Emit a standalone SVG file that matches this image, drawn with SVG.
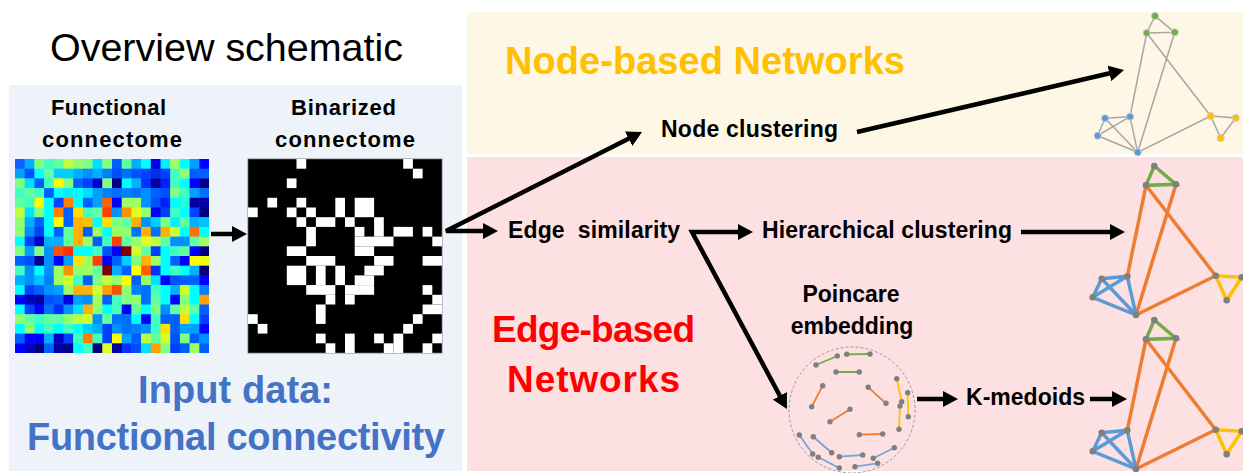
<svg xmlns="http://www.w3.org/2000/svg" xmlns:xlink="http://www.w3.org/1999/xlink" width="1243" height="473" viewBox="0 0 1243 473">
<style>
  .t { font-family: "Liberation Sans", Arial, sans-serif; }
  .b { font-family: "Liberation Sans", Arial, sans-serif; font-weight: bold; fill: #000; }
  .s { font-size: 23px; }
  .h { font-size: 22px; }
  .big { font-size: 38px; }
  .red { font-size: 37px; fill: #ff0000; }
  .blu { fill: #4472c4; }
  .arr { fill: none; stroke: #000; stroke-width: 4.5; marker-end: url(#ah); }
  .arr2 { fill: none; stroke: #000; stroke-width: 4.5; marker-start: url(#as); marker-end: url(#ah); stroke-linejoin: miter; }
  .gE { stroke: #a6a6a6; stroke-width: 1.5; fill: none; }
  .nd { stroke: #cfcfcf; stroke-width: 1; }
  .og { stroke: #ed7d31; stroke-width: 3.5; fill: none; }
  .bl { stroke: #5b9bd5; stroke-width: 3.5; fill: none; }
  .gr { stroke: #70ad47; stroke-width: 3.5; fill: none; }
  .ye { stroke: #ffc000; stroke-width: 3.5; fill: none; }
  .gn { fill: #7f7f7f; }
  .pe { stroke-width: 1.8; fill: none; }
</style>
<defs>
  <marker id="ah" markerUnits="userSpaceOnUse" viewBox="0 0 16 16" markerWidth="16" markerHeight="16" refX="7" refY="8" orient="auto">
    <path d="M0,0 L15,8 L0,16 z" fill="#000"/>
  </marker>
  <marker id="as" markerUnits="userSpaceOnUse" viewBox="0 0 16 16" markerWidth="16" markerHeight="16" refX="7" refY="8" orient="auto-start-reverse">
    <path d="M0,0 L15,8 L0,16 z" fill="#000"/>
  </marker>
  <!-- edge-clustered network, drawn once and reused -->
  <g id="edge-net">
    <path class="og" d="M1146,185.3 L1127.3,276.3 M1176,184.3 L1136,315 M1146,185.3 L1215.7,275.7 M1136,315 L1215.7,275.7"/>
    <path class="bl" d="M1101.7,278.7 L1127.3,276.3 M1101.7,278.7 L1092.7,297.3 M1092.7,297.3 L1127.3,276.3 M1101.7,278.7 L1136,315 M1127.3,276.3 L1136,315 M1092.7,297.3 L1136,315"/>
    <path class="gr" d="M1154.3,166 L1146,185.3 L1176,184.3 Z"/>
    <path class="ye" d="M1215.7,275.7 L1241.7,277.3 L1226.7,300.3 Z"/>
    <g class="gn">
      <circle cx="1154.3" cy="166" r="3.3"/><circle cx="1146" cy="185.3" r="3.3"/><circle cx="1176" cy="184.3" r="3.3"/>
      <circle cx="1127.3" cy="276.3" r="3.3"/><circle cx="1101.7" cy="278.7" r="3.3"/><circle cx="1092.7" cy="297.3" r="3.3"/><circle cx="1136" cy="315" r="3.3"/>
      <circle cx="1215.7" cy="275.7" r="3.3"/><circle cx="1241.7" cy="277.3" r="3.3"/><circle cx="1226.7" cy="300.3" r="3.3"/>
    </g>
  </g>
</defs>

<rect width="1243" height="473" fill="#fff"/>

<!-- background panels -->
<g id="input-panel">
  <rect x="9" y="85" width="453" height="386" fill="#eef3fa"/>
  <text class="b big blu" x="138" y="403" textLength="195">Input data:</text>
  <text class="b big blu" x="27" y="450" textLength="418">Functional connectivity</text>
</g>
<g id="node-based-panel">
  <rect x="467" y="12" width="776" height="142" fill="#fef7e6"/>
  <text class="b big" x="505" y="74" style="fill:#ffc000" textLength="400">Node-based Networks</text>
</g>
<g id="edge-based-panel">
  <rect x="467" y="157" width="776" height="314" fill="#fde0e1"/>
  <text class="b red" x="492" y="342" textLength="203">Edge-based</text>
  <text class="b red" x="507" y="392" textLength="173">Networks</text>
</g>

<g id="overview-title">
  <text class="t" x="50" y="61" font-size="39.5" fill="#000" textLength="353">Overview schematic</text>
</g>

<!-- functional connectome: 20x20 correlation matrix, jet colour map -->
<g id="functional-connectome">
  <text class="b h" x="51" y="115" textLength="115">Functional</text>
  <text class="b h" x="42" y="147" textLength="140">connectome</text>
  <g transform="translate(15,159) scale(9.7)">
    <g transform="translate(0,0)"><rect x="0" width="1.05" height="1.05" fill="#1060ff"/><rect x="1" width="1.05" height="1.05" fill="#00b0ff"/><rect x="2" width="1.05" height="1.05" fill="#80ff80"/><rect x="3" width="1.05" height="1.05" fill="#40ffc0"/><rect x="4" width="1.05" height="1.05" fill="#60ffa0"/><rect x="5" width="1.05" height="1.05" fill="#c0ff40"/><rect x="6" width="1.05" height="1.05" fill="#90ff70"/><rect x="7" width="1.05" height="1.05" fill="#80ff80"/><rect x="8" width="1.05" height="1.05" fill="#00e0ff"/><rect x="9" width="1.05" height="1.05" fill="#80ff80"/><rect x="10" width="1.05" height="1.05" fill="#0060ff"/><rect x="11" width="1.05" height="1.05" fill="#60ffa0"/><rect x="12" width="1.05" height="1.05" fill="#00b0ff"/><rect x="13" width="1.05" height="1.05" fill="#00ffff"/><rect x="14" width="1.05" height="1.05" fill="#0000e0"/><rect x="15" width="1.05" height="1.05" fill="#00f0ff"/><rect x="16" width="1.05" height="1.05" fill="#a0ff60"/><rect x="17" width="1.05" height="1.05" fill="#00ffff"/><rect x="18" width="1.05" height="1.05" fill="#00a0ff"/><rect x="19" width="1" height="1.05" fill="#0000ff"/></g>
    <g transform="translate(0,1)"><rect x="0" width="1.05" height="1.05" fill="#00a0ff"/><rect x="1" width="1.05" height="1.05" fill="#0050ff"/><rect x="2" width="1.05" height="1.05" fill="#00ffff"/><rect x="3" width="1.05" height="1.05" fill="#60ffa0"/><rect x="4" width="1.05" height="1.05" fill="#00d0ff"/><rect x="5" width="1.05" height="1.05" fill="#00d0ff"/><rect x="6" width="1.05" height="1.05" fill="#00b0ff"/><rect x="7" width="1.05" height="1.05" fill="#0090ff"/><rect x="8" width="1.05" height="1.05" fill="#00b0ff"/><rect x="9" width="1.05" height="1.05" fill="#0080ff"/><rect x="10" width="1.05" height="1.05" fill="#0050ff"/><rect x="11" width="1.05" height="1.05" fill="#0070ff"/><rect x="12" width="1.05" height="1.05" fill="#0050ff"/><rect x="13" width="1.05" height="1.05" fill="#0040ff"/><rect x="14" width="1.05" height="1.05" fill="#0030e0"/><rect x="15" width="1.05" height="1.05" fill="#0040ff"/><rect x="16" width="1.05" height="1.05" fill="#40ffc0"/><rect x="17" width="1.05" height="1.05" fill="#90ff70"/><rect x="18" width="1.05" height="1.05" fill="#0060ff"/><rect x="19" width="1" height="1.05" fill="#0060ff"/></g>
    <g transform="translate(0,2)"><rect x="0" width="1.05" height="1.05" fill="#80ff80"/><rect x="1" width="1.05" height="1.05" fill="#00e0ff"/><rect x="2" width="1.05" height="1.05" fill="#0060ff"/><rect x="3" width="1.05" height="1.05" fill="#40ffc0"/><rect x="4" width="1.05" height="1.05" fill="#ffff00"/><rect x="5" width="1.05" height="1.05" fill="#80ff80"/><rect x="6" width="1.05" height="1.05" fill="#0060ff"/><rect x="7" width="1.05" height="1.05" fill="#0040ff"/><rect x="8" width="1.05" height="1.05" fill="#0000c0"/><rect x="9" width="1.05" height="1.05" fill="#80ff80"/><rect x="10" width="1.05" height="1.05" fill="#000080"/><rect x="11" width="1.05" height="1.05" fill="#00ffff"/><rect x="12" width="1.05" height="1.05" fill="#00b0ff"/><rect x="13" width="1.05" height="1.05" fill="#0030ff"/><rect x="14" width="1.05" height="1.05" fill="#0000a0"/><rect x="15" width="1.05" height="1.05" fill="#0020ff"/><rect x="16" width="1.05" height="1.05" fill="#40ffc0"/><rect x="17" width="1.05" height="1.05" fill="#00ffff"/><rect x="18" width="1.05" height="1.05" fill="#0000ff"/><rect x="19" width="1" height="1.05" fill="#000080"/></g>
    <g transform="translate(0,3)"><rect x="0" width="1.05" height="1.05" fill="#40ffc0"/><rect x="1" width="1.05" height="1.05" fill="#60ffa0"/><rect x="2" width="1.05" height="1.05" fill="#40ffc0"/><rect x="3" width="1.05" height="1.05" fill="#0060ff"/><rect x="4" width="1.05" height="1.05" fill="#00ffff"/><rect x="5" width="1.05" height="1.05" fill="#00f0ff"/><rect x="6" width="1.05" height="1.05" fill="#00ffff"/><rect x="7" width="1.05" height="1.05" fill="#00e0ff"/><rect x="8" width="1.05" height="1.05" fill="#00a0ff"/><rect x="9" width="1.05" height="1.05" fill="#0080ff"/><rect x="10" width="1.05" height="1.05" fill="#0070ff"/><rect x="11" width="1.05" height="1.05" fill="#0080ff"/><rect x="12" width="1.05" height="1.05" fill="#0070ff"/><rect x="13" width="1.05" height="1.05" fill="#0090ff"/><rect x="14" width="1.05" height="1.05" fill="#0060ff"/><rect x="15" width="1.05" height="1.05" fill="#0050ff"/><rect x="16" width="1.05" height="1.05" fill="#80ff80"/><rect x="17" width="1.05" height="1.05" fill="#40ffc0"/><rect x="18" width="1.05" height="1.05" fill="#00a0ff"/><rect x="19" width="1" height="1.05" fill="#0070ff"/></g>
    <g transform="translate(0,4)"><rect x="0" width="1.05" height="1.05" fill="#60ffa0"/><rect x="1" width="1.05" height="1.05" fill="#40ffc0"/><rect x="2" width="1.05" height="1.05" fill="#ffff00"/><rect x="3" width="1.05" height="1.05" fill="#00ffff"/><rect x="4" width="1.05" height="1.05" fill="#0040ff"/><rect x="5" width="1.05" height="1.05" fill="#ff8000"/><rect x="6" width="1.05" height="1.05" fill="#00ffff"/><rect x="7" width="1.05" height="1.05" fill="#0060ff"/><rect x="8" width="1.05" height="1.05" fill="#00a0ff"/><rect x="9" width="1.05" height="1.05" fill="#ff6000"/><rect x="10" width="1.05" height="1.05" fill="#0000ff"/><rect x="11" width="1.05" height="1.05" fill="#a0ff60"/><rect x="12" width="1.05" height="1.05" fill="#a0ff60"/><rect x="13" width="1.05" height="1.05" fill="#0090ff"/><rect x="14" width="1.05" height="1.05" fill="#0050ff"/><rect x="15" width="1.05" height="1.05" fill="#0020ff"/><rect x="16" width="1.05" height="1.05" fill="#00ffff"/><rect x="17" width="1.05" height="1.05" fill="#20ffe0"/><rect x="18" width="1.05" height="1.05" fill="#0000a0"/><rect x="19" width="1" height="1.05" fill="#0000a0"/></g>
    <g transform="translate(0,5)"><rect x="0" width="1.05" height="1.05" fill="#c0ff40"/><rect x="1" width="1.05" height="1.05" fill="#00e0ff"/><rect x="2" width="1.05" height="1.05" fill="#80ff80"/><rect x="3" width="1.05" height="1.05" fill="#00ffff"/><rect x="4" width="1.05" height="1.05" fill="#ff8000"/><rect x="5" width="1.05" height="1.05" fill="#0060ff"/><rect x="6" width="1.05" height="1.05" fill="#ffe000"/><rect x="7" width="1.05" height="1.05" fill="#40ffc0"/><rect x="8" width="1.05" height="1.05" fill="#60ffa0"/><rect x="9" width="1.05" height="1.05" fill="#ff4000"/><rect x="10" width="1.05" height="1.05" fill="#0090ff"/><rect x="11" width="1.05" height="1.05" fill="#ff9000"/><rect x="12" width="1.05" height="1.05" fill="#e0ff20"/><rect x="13" width="1.05" height="1.05" fill="#90ff70"/><rect x="14" width="1.05" height="1.05" fill="#0000ff"/><rect x="15" width="1.05" height="1.05" fill="#0040ff"/><rect x="16" width="1.05" height="1.05" fill="#40ffc0"/><rect x="17" width="1.05" height="1.05" fill="#00ffff"/><rect x="18" width="1.05" height="1.05" fill="#0040ff"/><rect x="19" width="1" height="1.05" fill="#000080"/></g>
    <g transform="translate(0,6)"><rect x="0" width="1.05" height="1.05" fill="#90ff70"/><rect x="1" width="1.05" height="1.05" fill="#00b0ff"/><rect x="2" width="1.05" height="1.05" fill="#0060ff"/><rect x="3" width="1.05" height="1.05" fill="#00ffff"/><rect x="4" width="1.05" height="1.05" fill="#ffff00"/><rect x="5" width="1.05" height="1.05" fill="#0060ff"/><rect x="6" width="1.05" height="1.05" fill="#ffb000"/><rect x="7" width="1.05" height="1.05" fill="#ffc000"/><rect x="8" width="1.05" height="1.05" fill="#00ffff"/><rect x="9" width="1.05" height="1.05" fill="#ffe000"/><rect x="10" width="1.05" height="1.05" fill="#80ff80"/><rect x="11" width="1.05" height="1.05" fill="#60ffa0"/><rect x="12" width="1.05" height="1.05" fill="#ffb000"/><rect x="13" width="1.05" height="1.05" fill="#0090ff"/><rect x="14" width="1.05" height="1.05" fill="#00d0ff"/><rect x="15" width="1.05" height="1.05" fill="#80ff80"/><rect x="16" width="1.05" height="1.05" fill="#00f0ff"/><rect x="17" width="1.05" height="1.05" fill="#60ffa0"/><rect x="18" width="1.05" height="1.05" fill="#00b0ff"/><rect x="19" width="1" height="1.05" fill="#00c0ff"/></g>
    <g transform="translate(0,7)"><rect x="0" width="1.05" height="1.05" fill="#90ff70"/><rect x="1" width="1.05" height="1.05" fill="#0090ff"/><rect x="2" width="1.05" height="1.05" fill="#0040ff"/><rect x="3" width="1.05" height="1.05" fill="#00ffff"/><rect x="4" width="1.05" height="1.05" fill="#0060ff"/><rect x="5" width="1.05" height="1.05" fill="#60ffa0"/><rect x="6" width="1.05" height="1.05" fill="#ffb000"/><rect x="7" width="1.05" height="1.05" fill="#0060ff"/><rect x="8" width="1.05" height="1.05" fill="#a0ff60"/><rect x="9" width="1.05" height="1.05" fill="#00ffff"/><rect x="10" width="1.05" height="1.05" fill="#a0ff60"/><rect x="11" width="1.05" height="1.05" fill="#90ff70"/><rect x="12" width="1.05" height="1.05" fill="#0070ff"/><rect x="13" width="1.05" height="1.05" fill="#ffb000"/><rect x="14" width="1.05" height="1.05" fill="#0070ff"/><rect x="15" width="1.05" height="1.05" fill="#ffb000"/><rect x="16" width="1.05" height="1.05" fill="#d0ff30"/><rect x="17" width="1.05" height="1.05" fill="#00ffff"/><rect x="18" width="1.05" height="1.05" fill="#ff7000"/><rect x="19" width="1" height="1.05" fill="#00ffff"/></g>
    <g transform="translate(0,8)"><rect x="0" width="1.05" height="1.05" fill="#00ffff"/><rect x="1" width="1.05" height="1.05" fill="#0040ff"/><rect x="2" width="1.05" height="1.05" fill="#0000c0"/><rect x="3" width="1.05" height="1.05" fill="#00b0ff"/><rect x="4" width="1.05" height="1.05" fill="#00b0ff"/><rect x="5" width="1.05" height="1.05" fill="#60ffa0"/><rect x="6" width="1.05" height="1.05" fill="#ffb000"/><rect x="7" width="1.05" height="1.05" fill="#a0ff60"/><rect x="8" width="1.05" height="1.05" fill="#0060ff"/><rect x="9" width="1.05" height="1.05" fill="#40ffc0"/><rect x="10" width="1.05" height="1.05" fill="#ff4000"/><rect x="11" width="1.05" height="1.05" fill="#60ffa0"/><rect x="12" width="1.05" height="1.05" fill="#90ff70"/><rect x="13" width="1.05" height="1.05" fill="#e0ff20"/><rect x="14" width="1.05" height="1.05" fill="#c0ff40"/><rect x="15" width="1.05" height="1.05" fill="#60ffa0"/><rect x="16" width="1.05" height="1.05" fill="#0090ff"/><rect x="17" width="1.05" height="1.05" fill="#0090ff"/><rect x="18" width="1.05" height="1.05" fill="#60ffa0"/><rect x="19" width="1" height="1.05" fill="#a0ff60"/></g>
    <g transform="translate(0,9)"><rect x="0" width="1.05" height="1.05" fill="#80ff80"/><rect x="1" width="1.05" height="1.05" fill="#00a0ff"/><rect x="2" width="1.05" height="1.05" fill="#80ff80"/><rect x="3" width="1.05" height="1.05" fill="#0090ff"/><rect x="4" width="1.05" height="1.05" fill="#ff5000"/><rect x="5" width="1.05" height="1.05" fill="#ff3000"/><rect x="6" width="1.05" height="1.05" fill="#00ffff"/><rect x="7" width="1.05" height="1.05" fill="#00ffff"/><rect x="8" width="1.05" height="1.05" fill="#40ffc0"/><rect x="9" width="1.05" height="1.05" fill="#0050ff"/><rect x="10" width="1.05" height="1.05" fill="#0000ff"/><rect x="11" width="1.05" height="1.05" fill="#800000"/><rect x="12" width="1.05" height="1.05" fill="#d0ff30"/><rect x="13" width="1.05" height="1.05" fill="#60ffa0"/><rect x="14" width="1.05" height="1.05" fill="#0040ff"/><rect x="15" width="1.05" height="1.05" fill="#00ffff"/><rect x="16" width="1.05" height="1.05" fill="#40ffc0"/><rect x="17" width="1.05" height="1.05" fill="#60ffa0"/><rect x="18" width="1.05" height="1.05" fill="#0000ff"/><rect x="19" width="1" height="1.05" fill="#000080"/></g>
    <g transform="translate(0,10)"><rect x="0" width="1.05" height="1.05" fill="#0060ff"/><rect x="1" width="1.05" height="1.05" fill="#0050ff"/><rect x="2" width="1.05" height="1.05" fill="#000090"/><rect x="3" width="1.05" height="1.05" fill="#0090ff"/><rect x="4" width="1.05" height="1.05" fill="#0000ff"/><rect x="5" width="1.05" height="1.05" fill="#00a0ff"/><rect x="6" width="1.05" height="1.05" fill="#ffe000"/><rect x="7" width="1.05" height="1.05" fill="#a0ff60"/><rect x="8" width="1.05" height="1.05" fill="#ff4000"/><rect x="9" width="1.05" height="1.05" fill="#0000ff"/><rect x="10" width="1.05" height="1.05" fill="#0060ff"/><rect x="11" width="1.05" height="1.05" fill="#00d0ff"/><rect x="12" width="1.05" height="1.05" fill="#80ff80"/><rect x="13" width="1.05" height="1.05" fill="#ffb000"/><rect x="14" width="1.05" height="1.05" fill="#a0ff60"/><rect x="15" width="1.05" height="1.05" fill="#00ffff"/><rect x="16" width="1.05" height="1.05" fill="#0060ff"/><rect x="17" width="1.05" height="1.05" fill="#0000ff"/><rect x="18" width="1.05" height="1.05" fill="#ffff00"/><rect x="19" width="1" height="1.05" fill="#f0ff10"/></g>
    <g transform="translate(0,11)"><rect x="0" width="1.05" height="1.05" fill="#40ffc0"/><rect x="1" width="1.05" height="1.05" fill="#0090ff"/><rect x="2" width="1.05" height="1.05" fill="#00ffff"/><rect x="3" width="1.05" height="1.05" fill="#0090ff"/><rect x="4" width="1.05" height="1.05" fill="#a0ff60"/><rect x="5" width="1.05" height="1.05" fill="#ff9000"/><rect x="6" width="1.05" height="1.05" fill="#90ff70"/><rect x="7" width="1.05" height="1.05" fill="#a0ff60"/><rect x="8" width="1.05" height="1.05" fill="#60ffa0"/><rect x="9" width="1.05" height="1.05" fill="#800000"/><rect x="10" width="1.05" height="1.05" fill="#00b0ff"/><rect x="11" width="1.05" height="1.05" fill="#0060ff"/><rect x="12" width="1.05" height="1.05" fill="#ffff00"/><rect x="13" width="1.05" height="1.05" fill="#ff6000"/><rect x="14" width="1.05" height="1.05" fill="#0030ff"/><rect x="15" width="1.05" height="1.05" fill="#00ffff"/><rect x="16" width="1.05" height="1.05" fill="#40ffc0"/><rect x="17" width="1.05" height="1.05" fill="#00ffff"/><rect x="18" width="1.05" height="1.05" fill="#00b0ff"/><rect x="19" width="1" height="1.05" fill="#000070"/></g>
    <g transform="translate(0,12)"><rect x="0" width="1.05" height="1.05" fill="#00b0ff"/><rect x="1" width="1.05" height="1.05" fill="#0090ff"/><rect x="2" width="1.05" height="1.05" fill="#00c0ff"/><rect x="3" width="1.05" height="1.05" fill="#0080ff"/><rect x="4" width="1.05" height="1.05" fill="#a0ff60"/><rect x="5" width="1.05" height="1.05" fill="#d0ff30"/><rect x="6" width="1.05" height="1.05" fill="#40ffc0"/><rect x="7" width="1.05" height="1.05" fill="#0060ff"/><rect x="8" width="1.05" height="1.05" fill="#80ff80"/><rect x="9" width="1.05" height="1.05" fill="#c0ff40"/><rect x="10" width="1.05" height="1.05" fill="#90ff70"/><rect x="11" width="1.05" height="1.05" fill="#ffff00"/><rect x="12" width="1.05" height="1.05" fill="#0060ff"/><rect x="13" width="1.05" height="1.05" fill="#90ff70"/><rect x="14" width="1.05" height="1.05" fill="#00e0ff"/><rect x="15" width="1.05" height="1.05" fill="#0000ff"/><rect x="16" width="1.05" height="1.05" fill="#0050ff"/><rect x="17" width="1.05" height="1.05" fill="#0060ff"/><rect x="18" width="1.05" height="1.05" fill="#0060ff"/><rect x="19" width="1" height="1.05" fill="#0000ff"/></g>
    <g transform="translate(0,13)"><rect x="0" width="1.05" height="1.05" fill="#00ffff"/><rect x="1" width="1.05" height="1.05" fill="#0040ff"/><rect x="2" width="1.05" height="1.05" fill="#0060ff"/><rect x="3" width="1.05" height="1.05" fill="#0090ff"/><rect x="4" width="1.05" height="1.05" fill="#00a0ff"/><rect x="5" width="1.05" height="1.05" fill="#a0ff60"/><rect x="6" width="1.05" height="1.05" fill="#ffb000"/><rect x="7" width="1.05" height="1.05" fill="#ffb000"/><rect x="8" width="1.05" height="1.05" fill="#d0ff30"/><rect x="9" width="1.05" height="1.05" fill="#ffa000"/><rect x="10" width="1.05" height="1.05" fill="#ff5000"/><rect x="11" width="1.05" height="1.05" fill="#90ff70"/><rect x="12" width="1.05" height="1.05" fill="#0080ff"/><rect x="13" width="1.05" height="1.05" fill="#0070ff"/><rect x="14" width="1.05" height="1.05" fill="#40ffc0"/><rect x="15" width="1.05" height="1.05" fill="#00ffff"/><rect x="16" width="1.05" height="1.05" fill="#00b0ff"/><rect x="17" width="1.05" height="1.05" fill="#d0ff30"/><rect x="18" width="1.05" height="1.05" fill="#00ffff"/><rect x="19" width="1" height="1.05" fill="#0080ff"/></g>
    <g transform="translate(0,14)"><rect x="0" width="1.05" height="1.05" fill="#0000ff"/><rect x="1" width="1.05" height="1.05" fill="#0000c0"/><rect x="2" width="1.05" height="1.05" fill="#0000a0"/><rect x="3" width="1.05" height="1.05" fill="#0050ff"/><rect x="4" width="1.05" height="1.05" fill="#0060ff"/><rect x="5" width="1.05" height="1.05" fill="#0000e0"/><rect x="6" width="1.05" height="1.05" fill="#00a0ff"/><rect x="7" width="1.05" height="1.05" fill="#0090ff"/><rect x="8" width="1.05" height="1.05" fill="#a0ff60"/><rect x="9" width="1.05" height="1.05" fill="#0060ff"/><rect x="10" width="1.05" height="1.05" fill="#40ffc0"/><rect x="11" width="1.05" height="1.05" fill="#80ff80"/><rect x="12" width="1.05" height="1.05" fill="#90ff70"/><rect x="13" width="1.05" height="1.05" fill="#0070ff"/><rect x="14" width="1.05" height="1.05" fill="#60ffa0"/><rect x="15" width="1.05" height="1.05" fill="#00ffff"/><rect x="16" width="1.05" height="1.05" fill="#0000ff"/><rect x="17" width="1.05" height="1.05" fill="#80ff80"/><rect x="18" width="1.05" height="1.05" fill="#00ffff"/><rect x="19" width="1" height="1.05" fill="#ffa000"/></g>
    <g transform="translate(0,15)"><rect x="0" width="1.05" height="1.05" fill="#00ffff"/><rect x="1" width="1.05" height="1.05" fill="#0040ff"/><rect x="2" width="1.05" height="1.05" fill="#0000ff"/><rect x="3" width="1.05" height="1.05" fill="#0070ff"/><rect x="4" width="1.05" height="1.05" fill="#0030ff"/><rect x="5" width="1.05" height="1.05" fill="#0090ff"/><rect x="6" width="1.05" height="1.05" fill="#00e0ff"/><rect x="7" width="1.05" height="1.05" fill="#ffb000"/><rect x="8" width="1.05" height="1.05" fill="#90ff70"/><rect x="9" width="1.05" height="1.05" fill="#00ffff"/><rect x="10" width="1.05" height="1.05" fill="#40ffc0"/><rect x="11" width="1.05" height="1.05" fill="#0000ff"/><rect x="12" width="1.05" height="1.05" fill="#60ffa0"/><rect x="13" width="1.05" height="1.05" fill="#00ffff"/><rect x="14" width="1.05" height="1.05" fill="#80ff80"/><rect x="15" width="1.05" height="1.05" fill="#0090ff"/><rect x="16" width="1.05" height="1.05" fill="#60ffa0"/><rect x="17" width="1.05" height="1.05" fill="#c0ff40"/><rect x="18" width="1.05" height="1.05" fill="#60ffa0"/><rect x="19" width="1" height="1.05" fill="#0060ff"/></g>
    <g transform="translate(0,16)"><rect x="0" width="1.05" height="1.05" fill="#90ff70"/><rect x="1" width="1.05" height="1.05" fill="#60ffa0"/><rect x="2" width="1.05" height="1.05" fill="#40ffc0"/><rect x="3" width="1.05" height="1.05" fill="#60ffa0"/><rect x="4" width="1.05" height="1.05" fill="#60ffa0"/><rect x="5" width="1.05" height="1.05" fill="#90ff70"/><rect x="6" width="1.05" height="1.05" fill="#c0ff40"/><rect x="7" width="1.05" height="1.05" fill="#d0ff30"/><rect x="8" width="1.05" height="1.05" fill="#0090ff"/><rect x="9" width="1.05" height="1.05" fill="#60ffa0"/><rect x="10" width="1.05" height="1.05" fill="#0070ff"/><rect x="11" width="1.05" height="1.05" fill="#0070ff"/><rect x="12" width="1.05" height="1.05" fill="#00ffff"/><rect x="13" width="1.05" height="1.05" fill="#0000ff"/><rect x="14" width="1.05" height="1.05" fill="#40ffc0"/><rect x="15" width="1.05" height="1.05" fill="#0060ff"/><rect x="16" width="1.05" height="1.05" fill="#0060ff"/><rect x="17" width="1.05" height="1.05" fill="#ffe000"/><rect x="18" width="1.05" height="1.05" fill="#00ffff"/><rect x="19" width="1" height="1.05" fill="#0040ff"/></g>
    <g transform="translate(0,17)"><rect x="0" width="1.05" height="1.05" fill="#00ffff"/><rect x="1" width="1.05" height="1.05" fill="#90ff70"/><rect x="2" width="1.05" height="1.05" fill="#00ffff"/><rect x="3" width="1.05" height="1.05" fill="#40ffc0"/><rect x="4" width="1.05" height="1.05" fill="#00ffff"/><rect x="5" width="1.05" height="1.05" fill="#40ffc0"/><rect x="6" width="1.05" height="1.05" fill="#00ffff"/><rect x="7" width="1.05" height="1.05" fill="#00d0ff"/><rect x="8" width="1.05" height="1.05" fill="#00b0ff"/><rect x="9" width="1.05" height="1.05" fill="#0040ff"/><rect x="10" width="1.05" height="1.05" fill="#0090ff"/><rect x="11" width="1.05" height="1.05" fill="#0070ff"/><rect x="12" width="1.05" height="1.05" fill="#0080ff"/><rect x="13" width="1.05" height="1.05" fill="#0090ff"/><rect x="14" width="1.05" height="1.05" fill="#40ffc0"/><rect x="15" width="1.05" height="1.05" fill="#ffe000"/><rect x="16" width="1.05" height="1.05" fill="#0060ff"/><rect x="17" width="1.05" height="1.05" fill="#00a0ff"/><rect x="18" width="1.05" height="1.05" fill="#00a0ff"/><rect x="19" width="1" height="1.05" fill="#0000ff"/></g>
    <g transform="translate(0,18)"><rect x="0" width="1.05" height="1.05" fill="#0060ff"/><rect x="1" width="1.05" height="1.05" fill="#0000ff"/><rect x="2" width="1.05" height="1.05" fill="#0000ff"/><rect x="3" width="1.05" height="1.05" fill="#00b0ff"/><rect x="4" width="1.05" height="1.05" fill="#0000c0"/><rect x="5" width="1.05" height="1.05" fill="#0040ff"/><rect x="6" width="1.05" height="1.05" fill="#40ffc0"/><rect x="7" width="1.05" height="1.05" fill="#ff8000"/><rect x="8" width="1.05" height="1.05" fill="#40ffc0"/><rect x="9" width="1.05" height="1.05" fill="#0040ff"/><rect x="10" width="1.05" height="1.05" fill="#ffff00"/><rect x="11" width="1.05" height="1.05" fill="#00a0ff"/><rect x="12" width="1.05" height="1.05" fill="#0060ff"/><rect x="13" width="1.05" height="1.05" fill="#c0ff40"/><rect x="14" width="1.05" height="1.05" fill="#60ffa0"/><rect x="15" width="1.05" height="1.05" fill="#d0ff30"/><rect x="16" width="1.05" height="1.05" fill="#0050ff"/><rect x="17" width="1.05" height="1.05" fill="#80ff80"/><rect x="18" width="1.05" height="1.05" fill="#0060ff"/><rect x="19" width="1" height="1.05" fill="#0090ff"/></g>
    <g transform="translate(0,19)"><rect x="0" width="1.05" height="1" fill="#0000ff"/><rect x="1" width="1.05" height="1" fill="#0000c0"/><rect x="2" width="1.05" height="1" fill="#000080"/><rect x="3" width="1.05" height="1" fill="#0060ff"/><rect x="4" width="1.05" height="1" fill="#0000a0"/><rect x="5" width="1.05" height="1" fill="#000090"/><rect x="6" width="1.05" height="1" fill="#00ffff"/><rect x="7" width="1.05" height="1" fill="#40ffc0"/><rect x="8" width="1.05" height="1" fill="#000080"/><rect x="9" width="1.05" height="1" fill="#e0ff20"/><rect x="10" width="1.05" height="1" fill="#0000a0"/><rect x="11" width="1.05" height="1" fill="#0030ff"/><rect x="12" width="1.05" height="1" fill="#0050ff"/><rect x="13" width="1.05" height="1" fill="#00e0ff"/><rect x="14" width="1.05" height="1" fill="#ffa000"/><rect x="15" width="1.05" height="1" fill="#80ff80"/><rect x="16" width="1.05" height="1" fill="#0040ff"/><rect x="17" width="1.05" height="1" fill="#0060ff"/><rect x="18" width="1.05" height="1" fill="#a0ff60"/><rect x="19" width="1" height="1" fill="#0060ff"/></g>
  </g>
</g>

<!-- binarized connectome: thresholded matrix, white = edge kept -->
<g id="binarized-connectome">
  <text class="b h" x="291" y="115" textLength="105">Binarized</text>
  <text class="b h" x="275" y="147" textLength="140">connectome</text>
  <rect x="248" y="159" width="194" height="194" fill="#000" stroke="#666" stroke-width="0.8"/>
  <g transform="translate(248,159) scale(9.7)" fill="#fff">
    <rect x="5" y="0" width="1" height="1"/><rect x="16" y="0" width="1" height="1"/>
    <rect x="17" y="1" width="1" height="1"/>
    <rect x="4" y="2" width="1" height="1"/>
    <rect x="2" y="4" width="1" height="1"/><rect x="5" y="4" width="1" height="1"/><rect x="9" y="4" width="1" height="2"/><rect x="11" y="4" width="2" height="2"/>
    <rect x="0" y="5" width="1" height="1"/><rect x="4" y="5" width="1" height="1"/><rect x="6" y="5" width="1" height="1"/>
    <rect x="5" y="6" width="1" height="1"/><rect x="7" y="6" width="2" height="1"/><rect x="10" y="6" width="1" height="1"/><rect x="13" y="6" width="1" height="2"/>
    <rect x="6" y="7" width="1" height="2"/><rect x="11" y="7" width="1" height="1"/><rect x="15" y="7" width="2" height="1"/><rect x="18" y="7" width="1" height="1"/>
    <rect x="11" y="8" width="4" height="1"/><rect x="19" y="8" width="1" height="1"/>
    <rect x="4" y="9" width="2" height="1"/><rect x="11" y="9" width="2" height="1"/>
    <rect x="6" y="10" width="3" height="1"/><rect x="13" y="10" width="2" height="1"/><rect x="18" y="10" width="2" height="1"/>
    <rect x="4" y="11" width="2" height="2"/><rect x="7" y="11" width="1" height="2"/><rect x="9" y="11" width="1" height="2"/><rect x="12" y="11" width="2" height="1"/>
    <rect x="11" y="12" width="2" height="1"/>
    <rect x="6" y="13" width="3" height="1"/><rect x="10" y="13" width="3" height="1"/><rect x="18" y="13" width="1" height="1"/>
    <rect x="8" y="14" width="1" height="1"/><rect x="10" y="14" width="1" height="1"/><rect x="19" y="14" width="1" height="1"/>
    <rect x="7" y="15" width="1" height="2"/><rect x="18" y="15" width="2" height="1"/>
    <rect x="0" y="16" width="1" height="1"/><rect x="17" y="16" width="1" height="1"/>
    <rect x="1" y="17" width="1" height="1"/><rect x="16" y="17" width="1" height="1"/>
    <rect x="7" y="18" width="1" height="1"/><rect x="10" y="18" width="1" height="2"/><rect x="13" y="18" width="1" height="1"/><rect x="15" y="18" width="1" height="2"/><rect x="19" y="18" width="1" height="1"/>
    <rect x="8" y="19" width="1" height="1"/><rect x="14" y="19" width="1" height="1"/><rect x="18" y="19" width="1" height="1"/>
  </g>
</g>

<g id="node-clustering">
  <text class="b s" x="661" y="137" textLength="177">Node clustering</text>
</g>
<g id="edge-similarity">
  <text class="b s" x="508" y="238" textLength="172" xml:space="preserve">Edge  similarity</text>
</g>
<g id="hierarchical-clustering">
  <text class="b s" x="762" y="238" textLength="250">Hierarchical clustering</text>
</g>
<g id="poincare-embedding">
  <text class="b s" x="851" y="302" text-anchor="middle">Poincare</text>
  <text class="b s" x="852" y="334" text-anchor="middle">embedding</text>
  <circle cx="852" cy="410" r="63" fill="none" stroke="#9a9a9a" stroke-width="1" stroke-dasharray="3 2"/>
  <path class="pe" stroke="#70ad47" d="M816,365 L837.3,356 M846.7,354.3 L870,354 M836,372 L859.3,372"/>
  <path class="pe" stroke="#ed7d31" d="M822.7,385.7 L811.7,406.7 M868.3,387.3 L886,403.3 M850,409.3 L830,421.7 M859.3,434.7 L882.7,434"/>
  <path class="pe" stroke="#ffc000" d="M896.7,378.7 L901.7,401.7 M907.7,392.7 L908.3,416.7 M900,406 L899,429.3"/>
  <path class="pe" stroke="#6fa8dc" d="M799.3,435 L812.7,454 M813.3,436.7 L831.7,452.7 M818.3,457.3 L839.3,468 M839.3,456.7 L862.7,455 M855,466.7 L877.7,463.3 M873.3,458.3 L894.3,447.7"/>
  <g class="gn">
    <circle cx="816" cy="365" r="2.7"/><circle cx="837.3" cy="356" r="2.7"/><circle cx="846.7" cy="354.3" r="2.7"/><circle cx="870" cy="354" r="2.7"/><circle cx="836" cy="372" r="2.7"/><circle cx="859.3" cy="372" r="2.7"/>
    <circle cx="822.7" cy="385.7" r="2.7"/><circle cx="811.7" cy="406.7" r="2.7"/><circle cx="868.3" cy="387.3" r="2.7"/><circle cx="886" cy="403.3" r="2.7"/><circle cx="850" cy="409.3" r="2.7"/><circle cx="830" cy="421.7" r="2.7"/><circle cx="859.3" cy="434.7" r="2.7"/><circle cx="882.7" cy="434" r="2.7"/>
    <circle cx="896.7" cy="378.7" r="2.7"/><circle cx="901.7" cy="401.7" r="2.7"/><circle cx="907.7" cy="392.7" r="2.7"/><circle cx="908.3" cy="416.7" r="2.7"/><circle cx="900" cy="406" r="2.7"/><circle cx="899" cy="429.3" r="2.7"/>
    <circle cx="799.3" cy="435" r="2.7"/><circle cx="812.7" cy="454" r="2.7"/><circle cx="813.3" cy="436.7" r="2.7"/><circle cx="831.7" cy="452.7" r="2.7"/><circle cx="818.3" cy="457.3" r="2.7"/><circle cx="839.3" cy="468" r="2.7"/><circle cx="839.3" cy="456.7" r="2.7"/><circle cx="862.7" cy="455" r="2.7"/><circle cx="855" cy="466.7" r="2.7"/><circle cx="877.7" cy="463.3" r="2.7"/><circle cx="873.3" cy="458.3" r="2.7"/><circle cx="894.3" cy="447.7" r="2.7"/>
  </g>
</g>
<g id="k-medoids">
  <text class="b s" x="966" y="405" textLength="119">K-medoids</text>
</g>

<!-- node-clustered network -->
<g id="node-network">
  <path class="gE" d="M1155,16 L1146.7,33 L1174.7,32.3 Z M1146.7,33 L1130,116.7 M1174.7,32.3 L1137.7,152.3 M1146.7,33 L1210.7,116 M1137.7,152.3 L1210.7,116 M1105,118.3 L1130,116.7 M1105,118.3 L1097.7,135.7 M1097.7,135.7 L1130,116.7 M1105,118.3 L1137.7,152.3 M1130,116.7 L1137.7,152.3 M1097.7,135.7 L1137.7,152.3 M1210.7,116 L1235.7,118 L1220.7,138 Z"/>
  <g class="nd" fill="#70ad47"><circle cx="1155" cy="16" r="3.6"/><circle cx="1146.7" cy="33" r="3.6"/><circle cx="1174.7" cy="32.3" r="3.6"/></g>
  <g class="nd" fill="#5b9bd5"><circle cx="1130" cy="116.7" r="3.6"/><circle cx="1105" cy="118.3" r="3.6"/><circle cx="1097.7" cy="135.7" r="3.6"/><circle cx="1137.7" cy="152.3" r="3.6"/></g>
  <g class="nd" fill="#ffc000"><circle cx="1210.7" cy="116" r="3.6"/><circle cx="1235.7" cy="118" r="3.6"/><circle cx="1220.7" cy="138" r="3.6"/></g>
</g>

<g id="edge-network-hierarchical">
  <use xlink:href="#edge-net"/>
</g>
<g id="edge-network-kmedoids">
  <use xlink:href="#edge-net" y="154"/>
</g>

<!-- connectors -->
<g id="connectors">
  <path class="arr" d="M211,234 L239,234"/>
  <path class="arr2" d="M634.9,135.6 L446,231 L490,231"/>
  <path class="arr" d="M857,132 L1116.2,71.8"/>
  <path class="arr2" d="M745,232 L692,232 L783.2,402"/>
  <path class="arr" d="M1021,232 L1117,232"/>
  <path class="arr" d="M917,399 L950,399"/>
  <path class="arr" d="M1090,399 L1119,399"/>
</g>
</svg>
